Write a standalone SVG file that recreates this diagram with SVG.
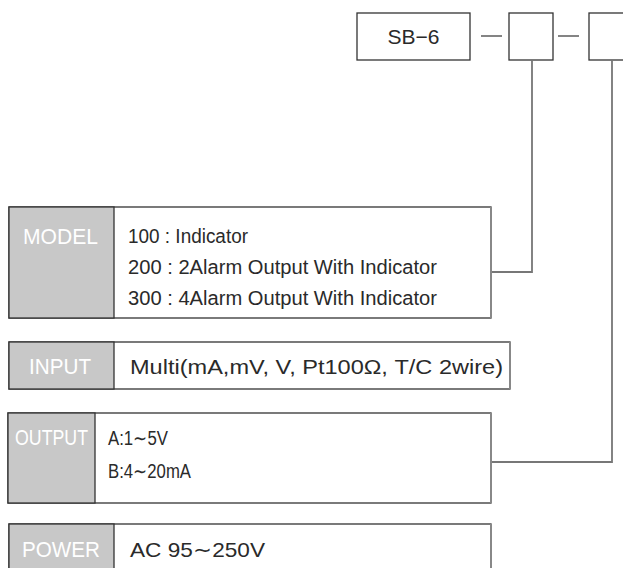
<svg xmlns="http://www.w3.org/2000/svg" width="623" height="568" viewBox="0 0 623 568">
<style>
.box{fill:#fff;stroke:#333;stroke-width:1.3}
.lab{fill:#c8c8c8;stroke:#333;stroke-width:1.3}
.redge{stroke:#888;stroke-width:2}
.lt{font-family:"Liberation Sans",Arial,sans-serif;font-size:22px;fill:#fff}
.ct{font-family:"Liberation Sans",Arial,sans-serif;font-size:20px;fill:#2a2a2a}
.it{font-family:"Liberation Sans",Arial,sans-serif;font-size:21px;fill:#2a2a2a}
.con{stroke:#777;stroke-width:1.8;fill:none}
</style>
<rect width="623" height="568" fill="#fff"/>
<g id="code">
<g id="sb6"><rect class="box" x="357" y="13" width="113" height="47"/><text class="it" x="413.5" y="44" text-anchor="middle">SB−6</text></g>
<g id="slot1"><rect class="box" x="509" y="13" width="44" height="47"/></g>
<g id="slot2"><rect class="box" x="589" y="13" width="40" height="47"/></g>
</g>
<g id="connectors">
<line class="con" x1="481" y1="36" x2="502" y2="36"/>
<line class="con" x1="558" y1="36" x2="579" y2="36"/>
<polyline class="con" points="532,60 532,272 491,272"/>
<polyline class="con" points="612,60 612,462 491,462"/>
</g>
<g id="model">
<rect class="box" x="9" y="207" width="482" height="111"/>
<rect class="lab" x="9" y="207" width="105" height="111"/>
<line class="redge" x1="491" y1="207" x2="491" y2="318"/>
<text class="lt" x="23" y="244" textLength="75" lengthAdjust="spacingAndGlyphs">MODEL</text>
<text class="ct" x="128" y="243" textLength="120" lengthAdjust="spacingAndGlyphs">100 : Indicator</text>
<text class="ct" x="128" y="274" textLength="309" lengthAdjust="spacingAndGlyphs">200 : 2Alarm Output With Indicator</text>
<text class="ct" x="128" y="305" textLength="309" lengthAdjust="spacingAndGlyphs">300 : 4Alarm Output With Indicator</text>
</g>
<g id="input">
<rect class="box" x="9" y="342" width="501" height="47"/>
<rect class="lab" x="9" y="342" width="105" height="47"/>
<line class="redge" x1="510" y1="342" x2="510" y2="389"/>
<text class="lt" x="29" y="374" textLength="62" lengthAdjust="spacingAndGlyphs">INPUT</text>
<text class="it" x="130" y="374" textLength="373" lengthAdjust="spacingAndGlyphs">Multi(mA,mV, V, Pt100Ω, T/C 2wire)</text>
</g>
<g id="output">
<rect class="box" x="8" y="413" width="483" height="90"/>
<rect class="lab" x="8" y="413" width="87" height="90"/>
<line class="redge" x1="491" y1="413" x2="491" y2="503"/>
<text class="lt" x="15" y="445" textLength="73" lengthAdjust="spacingAndGlyphs">OUTPUT</text>
<text class="ct" x="108" y="445" textLength="60" lengthAdjust="spacingAndGlyphs">A:1∼5V</text>
<text class="ct" x="108" y="478" textLength="83" lengthAdjust="spacingAndGlyphs">B:4∼20mA</text>
</g>
<g id="power">
<rect class="box" x="9" y="524" width="482" height="60"/>
<rect class="lab" x="9" y="524" width="105" height="60"/>
<line class="redge" x1="491" y1="524" x2="491" y2="568"/>
<text class="lt" x="22" y="557" textLength="78" lengthAdjust="spacingAndGlyphs">POWER</text>
<text class="it" x="130" y="557" textLength="135" lengthAdjust="spacingAndGlyphs">AC 95∼250V</text>
</g>
</svg>
